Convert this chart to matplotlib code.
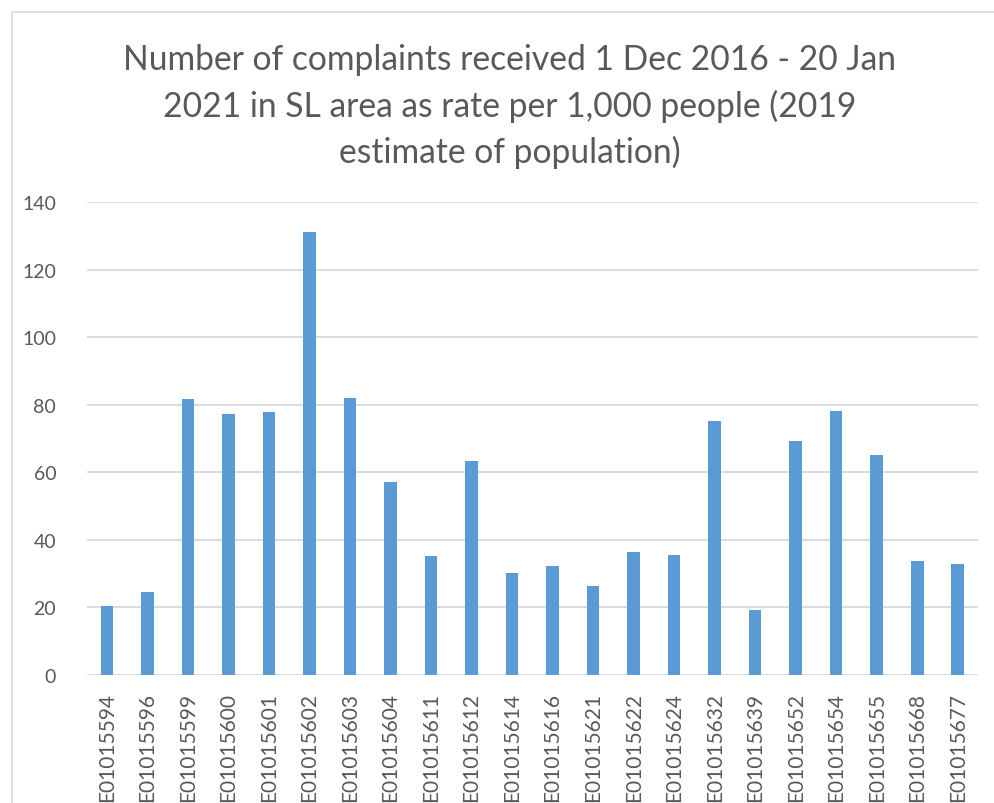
import matplotlib
matplotlib.use("Agg")
import matplotlib.pyplot as plt
from matplotlib.patches import Rectangle

categories = ["E01015594", "E01015596", "E01015599", "E01015600", "E01015601",
              "E01015602", "E01015603", "E01015604", "E01015611", "E01015612",
              "E01015614", "E01015616", "E01015621", "E01015622", "E01015624",
              "E01015632", "E01015639", "E01015652", "E01015654", "E01015655",
              "E01015668", "E01015677"]
values = [20.4, 24.6, 81.8, 77.3, 77.8, 131.1, 81.9, 57.2, 35.2, 63.3,
          30.3, 32.3, 26.2, 36.4, 35.6, 75.1, 19.2, 69.4, 78.2, 65.2,
          33.7, 33.0]
yticks = [0, 20, 40, 60, 80, 100, 120, 140]
title = ("Number of complaints received 1 Dec 2016 - 20 Jan\n"
         "2021 in SL area as rate per 1,000 people (2019\n"
         "estimate of population)")

plt.rcParams['font.family'] = ['Lato', 'DejaVu Sans']
W, H = 995, 804
fig = plt.figure(figsize=(W / 100, H / 100), dpi=100)
fig.patch.set_facecolor('white')

# outer chart border
fig.patches.append(Rectangle((12 / W, -0.1), 1.2, (H - 13) / H + 0.1,
                             transform=fig.transFigure, fill=False,
                             edgecolor='#d9d9d9', linewidth=1.2))

ax = fig.add_axes([86.7 / W, (H - 676) / H, 891.3 / W, 473 / H])
x = list(range(len(categories)))
ax.bar(x, values, width=0.31, color='#5b9bd5', zorder=3)
ax.set_xlim(-0.5, len(categories) - 0.5)
ax.set_ylim(0, 140)
ax.set_yticks(yticks)
ax.set_xticks(x)
ax.set_xticklabels(categories, rotation=90, fontsize=15, color='#595959')
ax.tick_params(axis='y', labelsize=14, colors='#595959', length=0, pad=22)
ax.tick_params(axis='x', length=0, pad=12)
ax.grid(axis='y', color='#d9d9d9', linewidth=1.3, zorder=0)
for s in ax.spines.values():
    s.set_visible(False)

fig.text(509.5 / W, (H - 44) / H, title, ha='center', va='top',
         fontsize=24.2, color='#595959', linespacing=1.5)

fig.savefig("out.png", dpi=100, facecolor='white')
